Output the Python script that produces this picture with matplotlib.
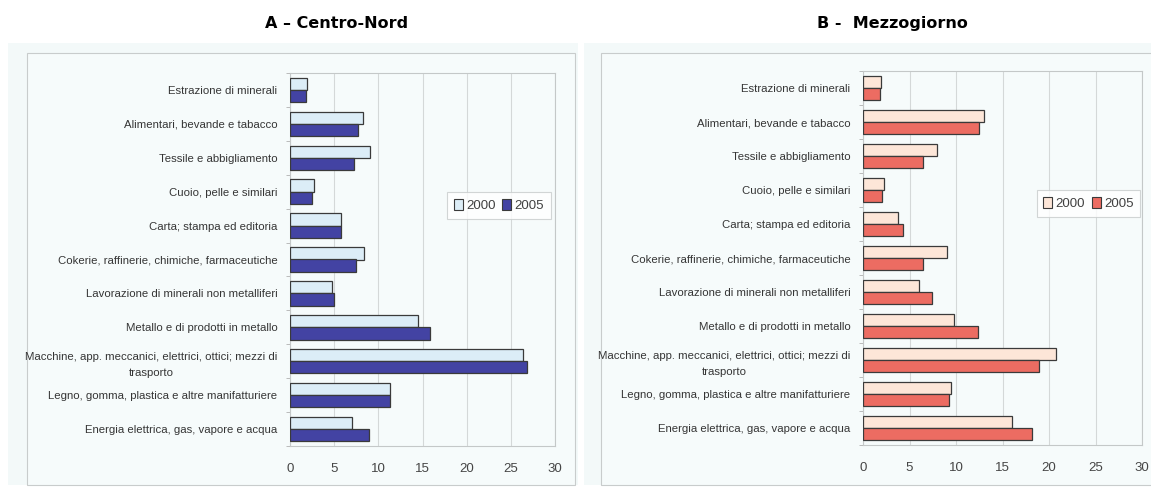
import numpy as np
import matplotlib
matplotlib.use("Agg")
import matplotlib.pyplot as plt
from matplotlib.patches import Rectangle, Patch
from matplotlib import font_manager

categories = [
    "Estrazione di minerali",
    "Alimentari, bevande e tabacco",
    "Tessile e abbigliamento",
    "Cuoio, pelle e similari",
    "Carta; stampa ed editoria",
    "Cokerie, raffinerie, chimiche, farmaceutiche",
    "Lavorazione di minerali non metalliferi",
    "Metallo e di prodotti in metallo",
    "Macchine, app. meccanici, elettrici, ottici; mezzi di\ntrasporto",
    "Legno, gomma, plastica e altre manifatturiere",
    "Energia elettrica, gas, vapore e acqua",
]

nord_2000 = [1.9, 8.25, 9.1, 2.7, 5.75, 8.4, 4.7, 14.5, 26.4, 11.3, 7.0]
nord_2005 = [1.8, 7.7, 7.2, 2.5, 5.75, 7.5, 5.0, 15.9, 26.8, 11.3, 8.9]
sud_2000 = [1.9, 13.0, 8.0, 2.3, 3.8, 9.0, 6.0, 9.8, 20.7, 9.45, 16.0]
sud_2005 = [1.85, 12.5, 6.4, 2.0, 4.35, 6.4, 7.4, 12.35, 18.9, 9.3, 18.2]

years = ["2000", "2005"]
x_ticks = [0, 5, 10, 15, 20, 25, 30]

names = {f.name for f in font_manager.fontManager.ttflist}
label_font = "Liberation Sans Narrow" if "Liberation Sans Narrow" in names else "Liberation Sans"

fig = plt.figure(figsize=(11.51, 4.90), dpi=100)
fig.patch.set_facecolor("white")


def frame(x0, x1, inner_x0, inner_x1):
    # light outer band and bordered inner panel
    fig.patches.append(Rectangle((x0 / 1151, 5 / 490), (x1 - x0) / 1151, 442 / 490,
                                 transform=fig.transFigure, facecolor="#f3f9f9",
                                 edgecolor="none", zorder=-10))
    fig.patches.append(Rectangle((inner_x0 / 1151, 5 / 490), (inner_x1 - inner_x0) / 1151,
                                 432 / 490, transform=fig.transFigure, facecolor="#f6fbfb",
                                 edgecolor="#c8cccc", lw=0.8, zorder=-9))


frame(8, 578, 27, 575)
frame(584, 1151, 601, 1160)


def draw_panel(rect, v2000, v2005, c2000, c2005, title, title_x, legend_xy):
    ax = fig.add_axes(rect)
    ax.set_facecolor("none")
    y = np.arange(len(categories))
    h = 0.36
    ax.barh(y - h / 2, v2000, height=h, color=c2000, edgecolor="#3a3a3a", lw=0.9, zorder=3)
    ax.barh(y + h / 2, v2005, height=h, color=c2005, edgecolor="#3a3a3a", lw=0.9, zorder=3)
    ax.set_xlim(0, 30)
    ax.set_ylim(len(categories) - 0.5, -0.5)
    ax.set_xticks(x_ticks)
    ax.set_xticklabels([str(t) for t in x_ticks], fontsize=9.5, color="#454545",
                       family=label_font)
    ax.set_yticks(y)
    ax.set_yticklabels(categories, fontsize=8.2, color="#353535", family=label_font,
                       ha="right", multialignment="center", linespacing=1.7)
    ax.set_yticks(np.arange(len(categories) + 1) - 0.5, minor=True)
    ax.tick_params(axis="y", which="major", length=0, pad=9)
    ax.tick_params(axis="y", which="minor", length=3, color="#b0b0b0")
    ax.tick_params(axis="x", length=0, pad=12)
    ax.grid(axis="x", color="#d4d8d8", lw=0.8, zorder=0)
    for side in ["top", "right", "bottom", "left"]:
        ax.spines[side].set_color("#c4c8c8")
        ax.spines[side].set_linewidth(0.8)
    handles = [Patch(facecolor=c2000, edgecolor="#3a3a3a", lw=0.8),
               Patch(facecolor=c2005, edgecolor="#3a3a3a", lw=0.8)]
    leg = fig.legend(handles, years, loc="center", bbox_to_anchor=legend_xy, ncol=2,
                     frameon=True, fancybox=False, handlelength=0.7, handleheight=0.9,
                     handletextpad=0.25, columnspacing=0.5, borderpad=0.5,
                     prop={"family": label_font, "size": 9.5})
    leg.get_frame().set_edgecolor("#c8cccc")
    leg.get_frame().set_facecolor("white")
    leg.get_frame().set_linewidth(0.8)
    for t in leg.get_texts():
        t.set_color("#404040")
    fig.text(title_x, 0.953, title, ha="center", va="center", fontsize=11.5,
             fontweight="bold", family="DejaVu Sans")
    return ax


draw_panel([290 / 1151, 44 / 490, 265 / 1151, 373 / 490], nord_2000, nord_2005,
           "#dcedf7", "#4343a3", "A \u2013 Centro-Nord", 0.292, (0.4335, 0.5806))
draw_panel([863 / 1151, 45 / 490, 279 / 1151, 374 / 490], sud_2000, sud_2005,
           "#fde6d8", "#ec6c62", "B -  Mezzogiorno", 0.775, (0.9457, 0.5847))

fig.savefig("out.png", dpi=100)
